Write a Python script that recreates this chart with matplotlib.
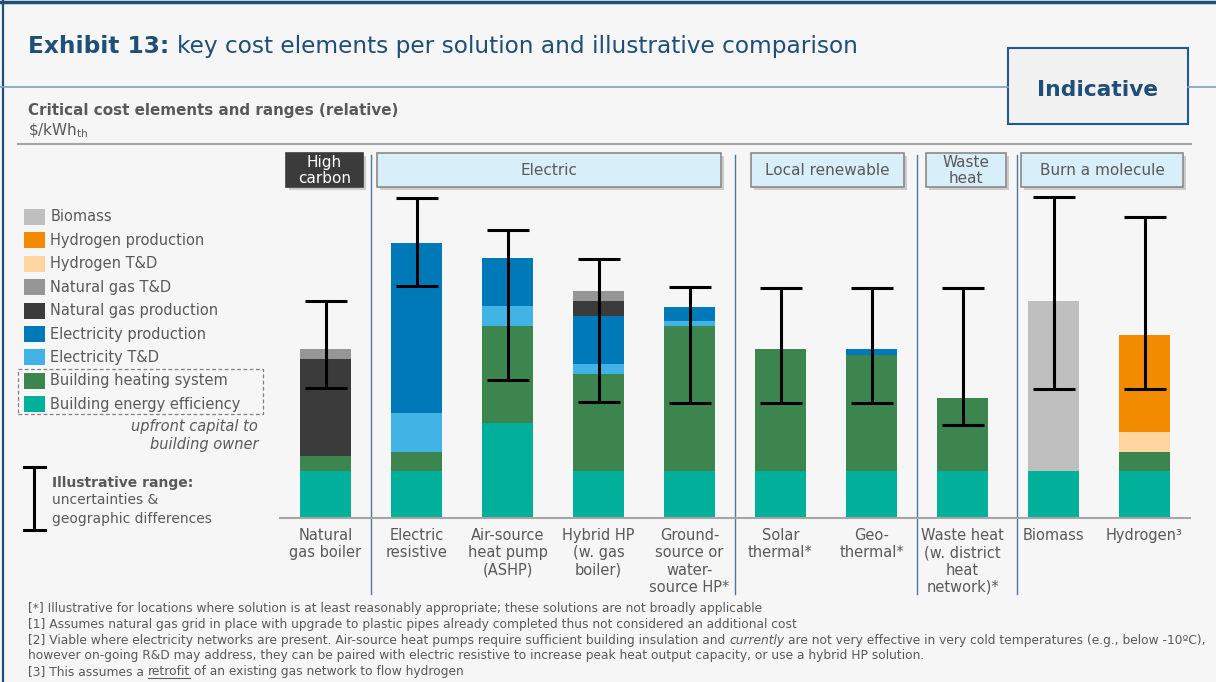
import matplotlib
matplotlib.use("Agg")
import matplotlib.pyplot as plt
import numpy as np
from matplotlib.patches import Rectangle
from matplotlib.lines import Line2D

W, H = 1216, 682

solutions = ["Natural\ngas boiler", "Electric\nresistive", "Air-source\nheat pump\n(ASHP)",
             "Hybrid HP\n(w. gas\nboiler)", "Ground-\nsource or\nwater-\nsource HP*",
             "Solar\nthermal*", "Geo-\nthermal*", "Waste heat\n(w. district\nheat\nnetwork)*",
             "Biomass", "Hydrogen³"]

# relative $/kWh_th, stacked bottom to top
building_efficiency = [4.7, 4.7, 9.5, 4.7, 4.7, 4.7, 4.7, 4.7, 4.7, 4.7]
building_heating = [1.5, 1.9, 9.7, 9.7, 14.5, 12.2, 11.6, 7.3, 0.0, 1.9]
electricity_td = [0.0, 3.9, 2.0, 1.0, 0.5, 0.0, 0.0, 0.0, 0.0, 0.0]
electricity_prod = [0.0, 17.0, 4.8, 4.8, 1.4, 0.0, 0.6, 0.0, 0.0, 0.0]
gas_prod = [9.7, 0.0, 0.0, 1.5, 0.0, 0.0, 0.0, 0.0, 0.0, 0.0]
gas_td = [1.0, 0.0, 0.0, 1.0, 0.0, 0.0, 0.0, 0.0, 0.0, 0.0]
hydrogen_td = [0.0, 0.0, 0.0, 0.0, 0.0, 0.0, 0.0, 0.0, 0.0, 2.0]
hydrogen_prod = [0.0, 0.0, 0.0, 0.0, 0.0, 0.0, 0.0, 0.0, 0.0, 9.7]
biomass = [0.0, 0.0, 0.0, 0.0, 0.0, 0.0, 0.0, 0.0, 17.0, 0.0]

# illustrative range (uncertainties & geographic differences)
range_low = [13.0, 23.2, 13.8, 11.6, 11.5, 11.5, 11.5, 9.3, 12.9, 12.9]
range_high = [21.7, 32.0, 28.8, 25.9, 23.1, 23.0, 23.0, 23.0, 32.1, 30.1]

stack = [
    ("Building energy efficiency", building_efficiency, "#00b09b"),
    ("Building heating system", building_heating, "#3c854e"),
    ("Electricity T&D", electricity_td, "#41b4e5"),
    ("Electricity production", electricity_prod, "#0079b9"),
    ("Natural gas production", gas_prod, "#3b3b3b"),
    ("Natural gas T&D", gas_td, "#969696"),
    ("Hydrogen T&D", hydrogen_td, "#ffd6a0"),
    ("Hydrogen production", hydrogen_prod, "#f28b00"),
    ("Biomass", biomass, "#bfbfbf"),
]

# group headers: label, left px, right px
groups = [("High\ncarbon", 286, 363), ("Electric", 377, 721), ("Local renewable", 751, 904),
          ("Waste\nheat", 926, 1006), ("Burn a molecule", 1021, 1183)]
separators = [0.5, 4.5, 6.5, 7.6]

footnotes = [
    [{"text": "[*] Illustrative for locations where solution is at least reasonably appropriate; these solutions are not broadly applicable"}],
    [{"text": "[1] Assumes natural gas grid in place with upgrade to plastic pipes already completed thus not considered an additional cost"}],
    [{"text": "[2] Viable where electricity networks are present. Air-source heat pumps require sufficient building insulation and "},
     {"text": "currently", "style": "italic"},
     {"text": " are not very effective in very cold temperatures (e.g., below -10ºC),"}],
    [{"text": "however on-going R&D may address, they can be paired with electric resistive to increase peak heat output capacity, or use a hybrid HP solution."}],
    [{"text": "[3] This assumes a "}, {"text": "retrofit", "underline": True},
     {"text": " of an existing gas network to flow hydrogen"}],
]

GRAY = "#595959"
NAVY = "#1f4e79"
BG = "#f6f6f6"

fig = plt.figure(figsize=(W / 100, H / 100), dpi=100)
fig.patch.set_facecolor(BG)
renderer = fig.canvas.get_renderer()


def fx(x):
    return x / W


def fy(y):
    return 1 - y / H


def text_width(s, kw):
    t = fig.text(0.5, 0.5, s, **kw)
    w = t.get_window_extent(renderer).width
    t.remove()
    return w


def piece_width(s, kw):
    return text_width("|" + s + "|", kw) - text_width("||", kw)


def kws(p, sz, color):
    return dict(fontsize=sz, fontweight=p.get("weight", "normal"),
                fontstyle=p.get("style", "normal"), color=color)


def fit_size(pieces, size, width):
    total = sum(piece_width(p["text"], kws(p, size, "k")) for p in pieces)
    return size * width / total


def chain(pieces, x, y, size, color, fit=None):
    """draw text pieces of mixed style one after another on a baseline"""
    if fit:
        size = fit_size(pieces, size, fit)
    cx = x
    for p in pieces:
        kw = kws(p, size, color)
        s = p["text"]
        lead = len(s) - len(s.lstrip(" "))
        x0 = cx + (piece_width(" " * lead, kw) if lead else 0)
        body = s.strip(" ")
        fig.text(fx(x0), fy(y), body, ha="left", va="baseline", **kw)
        if p.get("underline"):
            bw = piece_width(body, kw)
            fig.add_artist(Line2D([fx(x0), fx(x0 + bw)], [fy(y + 2.5)] * 2, color=color, lw=0.8))
        cx += piece_width(s, kw)
    return size


def fig_line(xs, ys, **kw):
    fig.add_artist(Line2D([fx(v) for v in xs], [fy(v) for v in ys], **kw))


def fig_rect(x0, y0, x1, y1, **kw):
    r = Rectangle((fx(x0), fy(y1)), fx(x1) - fx(x0), fy(y0) - fy(y1), transform=fig.transFigure, **kw)
    fig.add_artist(r)


# frame
fig_line([0, W], [1.5, 1.5], color=NAVY, lw=2.5)
fig_line([3, 3], [0, H], color=NAVY, lw=1.6)

# title
chain([{"text": "Exhibit 13:", "weight": "bold"},
       {"text": " key cost elements per solution and illustrative comparison"}],
      28, 53, 17, NAVY, fit=832)
fig_line([0, 1008], [87, 87], color="#7fa3c4", lw=1.2)
fig_line([1188, W], [87, 87], color="#7fa3c4", lw=1.2)
fig_rect(1008, 48, 1188, 124, facecolor="#f1f1f1", edgecolor="#245a8a", lw=1.5)
chain([{"text": "Indicative", "weight": "bold"}], 1037, 96, 15, NAVY, fit=121)

# subtitle
chain([{"text": "Critical cost elements and ranges (relative)", "weight": "bold"}], 28, 115, 11, GRAY, fit=370)
fig.text(fx(28), fy(135), r"\$/kWh$_{\mathregular{th}}$", ha="left", va="baseline", fontsize=11, color=GRAY)
fig_line([18, 1191], [143.5, 143.5], color="#a6a6a6", lw=1.5)

# chart
ax = fig.add_axes([fx(280), fy(518), fx(1190) - fx(280), fy(150) - fy(518)])
ax.set_facecolor(BG)
x = np.arange(len(solutions))
bottom = np.zeros(len(solutions))
for name, vals, col in stack:
    vals = np.array(vals)
    ax.bar(x, vals, 0.55, bottom=bottom, color=col, edgecolor="none")
    bottom += vals
lo = np.array(range_low)
hi = np.array(range_high)
ax.errorbar(x, (lo + hi) / 2, yerr=(hi - lo) / 2, fmt="none", ecolor="black",
            elinewidth=2.2, capsize=15, capthick=2.2, clip_on=False, zorder=5)
for sx in separators:
    ax.plot([sx, sx], [-7.6, 36.3], color="#4a7aa4", lw=1, clip_on=False)

ax.set_xlim(-0.5, 9.5)
ax.set_ylim(0, 36.8)
for s in ["top", "right", "left"]:
    ax.spines[s].set_visible(False)
ax.spines["bottom"].set_color("#a6a6a6")
ax.spines["bottom"].set_linewidth(1.5)
ax.set_yticks([])
ax.set_xticks(x, solutions)
ax.tick_params(axis="x", length=0, pad=7, labelsize=10.5, labelcolor=GRAY)

# group header boxes
for label, x0, x1 in groups:
    dark = label.startswith("High")
    fig_rect(x0 + 3, 156, x1 + 3, 190, facecolor="#9a9a9a", edgecolor="none", alpha=0.45)
    fig_rect(x0, 153, x1, 187, facecolor="#3b3b3b" if dark else "#d8eef9",
             edgecolor="#3b3b3b" if dark else "#8a8a8a", lw=1.2)
    fig.text(fx((x0 + x1) / 2), fy(170.5), label, ha="center", va="center", fontsize=11,
             color="white" if dark else GRAY, linespacing=1.05)

# legend
for i, (name, vals, col) in enumerate(stack[::-1]):
    yc = 217 + i * 23.4
    fig_rect(24, yc - 8, 45, yc + 8, facecolor=col, edgecolor="none")
    fig.text(fx(50.5), fy(yc), name, ha="left", va="center", fontsize=10.5, color=GRAY)
fig_rect(17.5, 369, 263, 414, facecolor="none", edgecolor="#7f7f7f", lw=0.9, linestyle=(0, (3, 2)))
fig.text(fx(258), fy(427), "upfront capital to", ha="right", va="center", fontsize=10.5,
         style="italic", color=GRAY)
fig.text(fx(258), fy(445), "building owner", ha="right", va="center", fontsize=10.5,
         style="italic", color=GRAY)

fig_line([34.3, 34.3], [467, 530], color="black", lw=2.2)
fig_line([24, 45], [467, 467], color="black", lw=2.2)
fig_line([24, 45], [530, 530], color="black", lw=2.2)
fig.text(fx(51.5), fy(482.5), "Illustrative range:", ha="left", va="center", fontsize=10,
         fontweight="bold", color=GRAY)
fig.text(fx(51.5), fy(500.5), "uncertainties &", ha="left", va="center", fontsize=10, color=GRAY)
fig.text(fx(51.5), fy(519), "geographic differences", ha="left", va="center", fontsize=10, color=GRAY)

# footnotes
fsize = fit_size(footnotes[2], 8.5, 1177)
for i, line in enumerate(footnotes):
    chain(line, 28, 612 + i * 15.8, fsize, GRAY)

fig.savefig("out.png", dpi=100, facecolor=BG)
